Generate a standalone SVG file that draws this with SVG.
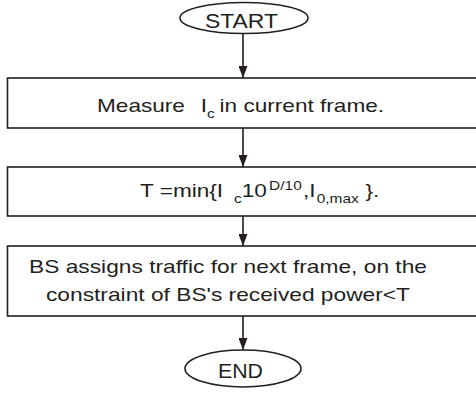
<svg xmlns="http://www.w3.org/2000/svg" width="476" height="396" viewBox="0 0 476 396">
<defs>
<style>
.sh{fill:#fff;stroke:#231f20;stroke-width:1.6}
.t{font-family:"Liberation Sans",Arial,Helvetica,sans-serif;font-size:19px;fill:#231f20}
.tt{font-family:"Liberation Sans",Arial,Helvetica,sans-serif;font-size:20px;fill:#231f20}
.s{font-size:13px}
.ln{stroke:#231f20;stroke-width:1.6;fill:none;marker-end:url(#ah)}
</style>
<marker id="ah" viewBox="0 0 12 9" refX="12" refY="4.5" markerWidth="12" markerHeight="9" markerUnits="userSpaceOnUse" orient="auto">
<path d="M0,0 L12,4.5 L0,9 Z" fill="#231f20"/>
</marker>
</defs>
<rect width="476" height="396" fill="#fff"/>
<g id="connectors">
<line class="ln" x1="243" y1="33.5" x2="243" y2="78"/>
<line class="ln" x1="243" y1="128" x2="243" y2="167"/>
<line class="ln" x1="243" y1="216" x2="243" y2="246"/>
<line class="ln" x1="243" y1="316" x2="243" y2="350"/>
</g>
<g id="start">
<ellipse class="sh" cx="244" cy="18" rx="64" ry="15.5"/>
<text class="tt" x="241.5" y="27.5" text-anchor="middle" textLength="73" lengthAdjust="spacingAndGlyphs">START</text>
</g>
<g id="measure">
<rect class="sh" x="7.5" y="78" width="480" height="50"/>
<text class="t" transform="translate(97,111.5) scale(1.19,1)"><tspan x="0">Measure</tspan><tspan x="87.3">I</tspan><tspan x="92.4" dy="6" class="s">c</tspan><tspan x="103" dy="-6">in current frame.</tspan></text>
</g>
<g id="threshold">
<rect class="sh" x="7.5" y="167" width="480" height="49"/>
<text class="t" transform="translate(140,197) scale(1.19,1)"><tspan x="0">T =min{I</tspan><tspan x="79" dy="6" class="s">c</tspan><tspan x="85.5" dy="-6">10</tspan><tspan x="108.5" dy="-7" class="s">D/10</tspan><tspan x="137" dy="7">,I</tspan><tspan x="148.5" dy="6" class="s">0,max</tspan><tspan x="189.5" dy="-6">}.</tspan></text>
</g>
<g id="assign">
<rect class="sh" x="7.5" y="246" width="480" height="70"/>
<text class="t" x="29" y="273" textLength="398" lengthAdjust="spacingAndGlyphs">BS assigns traffic for next frame, on the</text>
<text class="t" x="46" y="301" textLength="364" lengthAdjust="spacingAndGlyphs">constraint of BS's received power&lt;T</text>
</g>
<g id="end">
<ellipse class="sh" cx="243" cy="368.5" rx="58" ry="18.5"/>
<text class="tt" x="240.5" y="377.5" text-anchor="middle" textLength="45" lengthAdjust="spacingAndGlyphs">END</text>
</g>
</svg>
